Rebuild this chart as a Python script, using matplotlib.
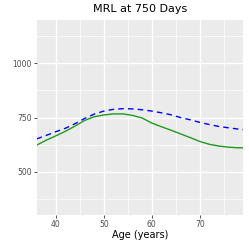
import numpy as np
import matplotlib
matplotlib.use("Agg")
import matplotlib.pyplot as plt

# ages (years) and mean residual life at 750 days
ages = [36, 38, 40, 42, 44, 46, 48, 50, 52, 54, 56, 58, 60, 62, 64, 66, 68,
        70, 72, 74, 76, 78, 79]
mrl_solid = [623, 646, 666, 687, 711, 737, 754, 762, 767, 767, 760, 748, 725,
             708, 692, 675, 658, 640, 627, 619, 614, 611, 611]
mrl_dashed = [652, 668, 685, 701, 722, 746, 766, 780, 788, 791, 790, 786, 780,
              772, 763, 750, 740, 728, 718, 709, 703, 697, 695]

x_ticks = [40, 50, 60, 70]
y_ticks = [500, 750, 1000]

fig = plt.figure(figsize=(2.49, 2.44), dpi=100)
ax = fig.add_axes([0.147, 0.119, 0.829, 0.799])
ax.set_facecolor("#EBEBEB")

ax.set_xlim(36, 79)
ax.set_ylim(302, 1199)

# minor and major grid like ggplot
ax.set_xticks(x_ticks)
ax.set_yticks(y_ticks)
ax.set_xticks([45, 55, 65, 75], minor=True)
ax.set_yticks([375, 625, 875, 1125], minor=True)
ax.grid(which="major", color="white", lw=1.0)
ax.grid(which="minor", color="white", lw=0.5)
ax.set_axisbelow(True)

ax.plot(ages, mrl_solid, color="#1E9A1E", lw=1.0)
ax.plot(ages, mrl_dashed, color="blue", lw=1.0, ls=(0, (4, 3)))

for s in ax.spines.values():
    s.set_visible(False)
ax.tick_params(which="major", length=2, width=0.6, color="#333333",
               labelsize=5.5, labelcolor="#4D4D4D", pad=1.5)
ax.tick_params(which="minor", length=0)

ax.set_xlabel("Age (years)", fontsize=7, color="black", labelpad=1)
ax.set_title("MRL at 750 Days", fontsize=8, pad=6)

fig.savefig("out.png", dpi=100)
